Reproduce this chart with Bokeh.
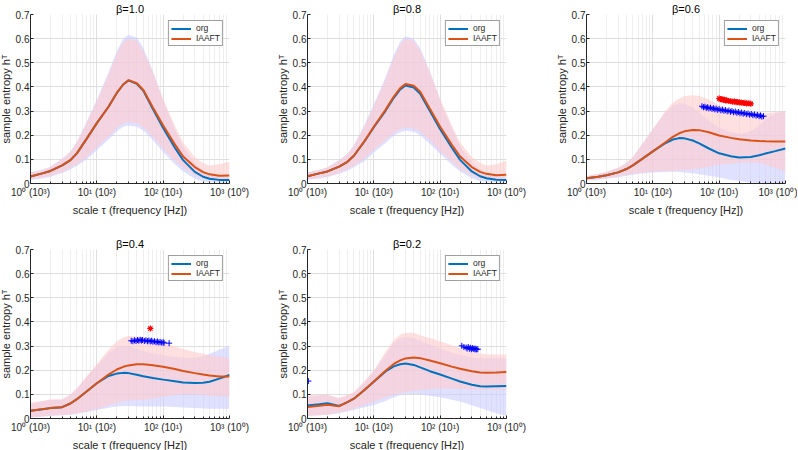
from bokeh.plotting import figure
from bokeh.layouts import column, row
from bokeh.models import FixedTicker
from bokeh.embed import file_html
from bokeh.resources import INLINE

# scales tau at which curves were read
TAU = [1, 1.5, 2, 3, 4, 5, 7, 10, 15, 20, 25, 30, 40, 50, 70, 100, 150, 200, 300, 400, 500, 700, 1000]

# ---- beta = 1.0
b10_iaaft = [0.029, 0.042, 0.052, 0.075, 0.097, 0.125, 0.185, 0.250, 0.318, 0.375, 0.410, 0.428, 0.415, 0.388, 0.315, 0.240, 0.162, 0.112, 0.068, 0.047, 0.038, 0.032, 0.033]
b10_org = [0.029, 0.042, 0.052, 0.075, 0.097, 0.125, 0.185, 0.250, 0.318, 0.375, 0.410, 0.427, 0.413, 0.385, 0.308, 0.230, 0.148, 0.097, 0.048, 0.028, 0.020, 0.015, 0.014]
b10_iaaft_hi = [0.045, 0.055, 0.068, 0.100, 0.130, 0.170, 0.250, 0.340, 0.450, 0.535, 0.585, 0.600, 0.590, 0.550, 0.460, 0.350, 0.240, 0.170, 0.110, 0.085, 0.075, 0.080, 0.090]
b10_iaaft_lo = [0.018, 0.025, 0.032, 0.048, 0.065, 0.080, 0.110, 0.150, 0.195, 0.230, 0.250, 0.255, 0.250, 0.235, 0.195, 0.145, 0.095, 0.065, 0.035, 0.022, 0.018, 0.015, 0.015]
b10_org_hi = [0.046, 0.057, 0.070, 0.102, 0.133, 0.173, 0.255, 0.347, 0.460, 0.548, 0.600, 0.615, 0.605, 0.562, 0.465, 0.345, 0.225, 0.152, 0.085, 0.055, 0.040, 0.030, 0.025]
b10_org_lo = [0.015, 0.021, 0.028, 0.043, 0.058, 0.072, 0.100, 0.138, 0.182, 0.215, 0.235, 0.240, 0.235, 0.220, 0.180, 0.130, 0.080, 0.050, 0.020, 0.008, 0.005, 0.004, 0.004]

# ---- beta = 0.8
b08_iaaft = [0.030, 0.042, 0.050, 0.070, 0.090, 0.115, 0.170, 0.235, 0.305, 0.360, 0.395, 0.412, 0.405, 0.380, 0.310, 0.235, 0.160, 0.112, 0.068, 0.048, 0.040, 0.034, 0.036]
b08_org = [0.030, 0.042, 0.050, 0.070, 0.090, 0.115, 0.169, 0.233, 0.301, 0.355, 0.390, 0.406, 0.398, 0.372, 0.300, 0.225, 0.148, 0.098, 0.050, 0.030, 0.022, 0.016, 0.015]
b08_iaaft_hi = [0.045, 0.055, 0.065, 0.095, 0.120, 0.155, 0.230, 0.320, 0.430, 0.520, 0.575, 0.600, 0.590, 0.550, 0.460, 0.350, 0.240, 0.170, 0.110, 0.085, 0.075, 0.080, 0.095]
b08_iaaft_lo = [0.018, 0.025, 0.030, 0.045, 0.060, 0.075, 0.100, 0.140, 0.180, 0.210, 0.225, 0.232, 0.228, 0.215, 0.180, 0.135, 0.090, 0.060, 0.035, 0.022, 0.018, 0.015, 0.015]
b08_org_hi = [0.046, 0.057, 0.067, 0.097, 0.123, 0.158, 0.235, 0.327, 0.440, 0.532, 0.588, 0.610, 0.600, 0.560, 0.465, 0.345, 0.228, 0.155, 0.088, 0.058, 0.042, 0.032, 0.027]
b08_org_lo = [0.015, 0.021, 0.026, 0.040, 0.053, 0.067, 0.090, 0.128, 0.168, 0.198, 0.212, 0.218, 0.214, 0.200, 0.165, 0.122, 0.078, 0.050, 0.022, 0.010, 0.006, 0.005, 0.005]

# ---- beta = 0.6
b06_iaaft = [0.022, 0.028, 0.034, 0.046, 0.060, 0.075, 0.103, 0.133, 0.168, 0.193, 0.208, 0.216, 0.222, 0.221, 0.212, 0.199, 0.189, 0.183, 0.178, 0.176, 0.175, 0.174, 0.174]
b06_org = [0.022, 0.028, 0.034, 0.046, 0.060, 0.075, 0.103, 0.133, 0.165, 0.182, 0.188, 0.187, 0.178, 0.166, 0.145, 0.125, 0.113, 0.108, 0.110, 0.117, 0.124, 0.134, 0.145]
b06_iaaft_hi = [0.030, 0.040, 0.048, 0.065, 0.085, 0.110, 0.165, 0.225, 0.295, 0.335, 0.352, 0.362, 0.366, 0.362, 0.348, 0.325, 0.303, 0.292, 0.286, 0.286, 0.290, 0.295, 0.300]
b06_iaaft_lo = [0.014, 0.018, 0.022, 0.030, 0.036, 0.040, 0.046, 0.050, 0.052, 0.053, 0.055, 0.056, 0.058, 0.062, 0.070, 0.078, 0.083, 0.086, 0.088, 0.085, 0.078, 0.065, 0.050]
b06_org_hi = [0.030, 0.040, 0.048, 0.065, 0.085, 0.110, 0.165, 0.225, 0.290, 0.322, 0.332, 0.330, 0.315, 0.295, 0.260, 0.230, 0.212, 0.205, 0.215, 0.240, 0.265, 0.290, 0.300]
b06_org_lo = [0.012, 0.016, 0.020, 0.026, 0.032, 0.036, 0.042, 0.046, 0.048, 0.049, 0.048, 0.046, 0.042, 0.038, 0.032, 0.025, 0.015, 0.010, 0.004, 0.000, 0.000, 0.000, 0.000]
b06_red_tau = [100, 105, 110, 115, 120, 125, 130, 140, 150, 160, 170, 180, 190, 200, 215, 230, 245, 260, 280, 300]
b06_red_val = [0.352, 0.349, 0.350, 0.346, 0.347, 0.344, 0.345, 0.342, 0.341, 0.339, 0.340, 0.337, 0.338, 0.335, 0.336, 0.333, 0.334, 0.331, 0.332, 0.330]
b06_blue_tau = [55, 58, 61, 64, 67, 70, 74, 78, 82, 86, 90, 95, 100, 106, 112, 118, 125, 132, 140, 148, 156, 165, 175, 185, 195, 206, 218, 230, 243, 257, 272, 288, 305, 322, 340, 360, 380, 400, 420, 440, 466]
b06_blue_val = [0.320, 0.316, 0.318, 0.313, 0.316, 0.311, 0.314, 0.309, 0.312, 0.307, 0.310, 0.305, 0.308, 0.303, 0.306, 0.301, 0.304, 0.299, 0.302, 0.297, 0.300, 0.295, 0.298, 0.293, 0.296, 0.291, 0.294, 0.289, 0.292, 0.287, 0.290, 0.285, 0.288, 0.283, 0.286, 0.281, 0.284, 0.279, 0.282, 0.277, 0.279]

# ---- beta = 0.4
b04_iaaft = [0.032, 0.038, 0.043, 0.047, 0.062, 0.080, 0.112, 0.146, 0.182, 0.203, 0.214, 0.220, 0.225, 0.225, 0.221, 0.214, 0.205, 0.197, 0.188, 0.182, 0.178, 0.174, 0.174]
b04_org = [0.032, 0.038, 0.043, 0.047, 0.062, 0.080, 0.112, 0.146, 0.176, 0.186, 0.189, 0.188, 0.181, 0.175, 0.168, 0.161, 0.154, 0.149, 0.147, 0.148, 0.152, 0.165, 0.180]
b04_iaaft_hi = [0.065, 0.072, 0.080, 0.080, 0.100, 0.125, 0.175, 0.225, 0.285, 0.320, 0.335, 0.342, 0.340, 0.335, 0.325, 0.312, 0.298, 0.288, 0.275, 0.268, 0.262, 0.256, 0.250]
b04_iaaft_lo = [0.005, 0.008, 0.012, 0.015, 0.018, 0.022, 0.030, 0.040, 0.055, 0.065, 0.072, 0.075, 0.077, 0.078, 0.083, 0.090, 0.097, 0.100, 0.100, 0.098, 0.095, 0.092, 0.090]
b04_org_hi = [0.062, 0.070, 0.077, 0.078, 0.097, 0.122, 0.170, 0.218, 0.272, 0.295, 0.302, 0.300, 0.290, 0.280, 0.270, 0.262, 0.255, 0.252, 0.252, 0.258, 0.268, 0.285, 0.300]
b04_org_lo = [0.004, 0.007, 0.010, 0.013, 0.016, 0.020, 0.027, 0.035, 0.045, 0.050, 0.052, 0.052, 0.051, 0.050, 0.050, 0.050, 0.048, 0.046, 0.043, 0.041, 0.040, 0.040, 0.040]
b04_red_tau = [64]
b04_red_val = [0.373]
b04_blue_tau = [33, 35, 37, 39, 41, 43, 45, 47, 49, 52, 55, 58, 61, 64, 67, 70, 74, 78, 82, 86, 90, 95, 100, 103, 123]
b04_blue_val = [0.322, 0.320, 0.324, 0.321, 0.325, 0.322, 0.326, 0.323, 0.325, 0.321, 0.324, 0.320, 0.323, 0.319, 0.322, 0.318, 0.320, 0.316, 0.319, 0.315, 0.317, 0.314, 0.316, 0.313, 0.312]

# ---- beta = 0.2
b02_iaaft = [0.048, 0.053, 0.057, 0.051, 0.068, 0.082, 0.115, 0.153, 0.198, 0.226, 0.241, 0.249, 0.253, 0.250, 0.240, 0.229, 0.215, 0.206, 0.196, 0.191, 0.190, 0.191, 0.193]
b02_org = [0.054, 0.059, 0.063, 0.052, 0.068, 0.082, 0.115, 0.152, 0.195, 0.216, 0.225, 0.228, 0.222, 0.212, 0.196, 0.182, 0.165, 0.153, 0.140, 0.134, 0.133, 0.134, 0.135]
b02_iaaft_hi = [0.095, 0.097, 0.098, 0.085, 0.098, 0.110, 0.150, 0.200, 0.275, 0.325, 0.348, 0.355, 0.355, 0.345, 0.333, 0.320, 0.303, 0.290, 0.276, 0.270, 0.266, 0.265, 0.265]
b02_iaaft_lo = [0.010, 0.013, 0.016, 0.025, 0.032, 0.040, 0.055, 0.070, 0.088, 0.100, 0.106, 0.110, 0.115, 0.118, 0.122, 0.125, 0.124, 0.122, 0.120, 0.120, 0.120, 0.120, 0.120]
b02_org_hi = [0.092, 0.095, 0.097, 0.083, 0.095, 0.107, 0.145, 0.195, 0.265, 0.312, 0.332, 0.338, 0.333, 0.322, 0.305, 0.290, 0.273, 0.263, 0.253, 0.250, 0.250, 0.250, 0.250]
b02_org_lo = [0.010, 0.013, 0.016, 0.022, 0.030, 0.036, 0.046, 0.056, 0.072, 0.088, 0.097, 0.100, 0.101, 0.099, 0.094, 0.088, 0.078, 0.070, 0.055, 0.043, 0.035, 0.022, 0.010]
b02_red_tau = []
b02_red_val = []
b02_blue_tau = [1.03, 212, 228, 246, 255, 265, 275, 285, 295, 305, 315, 325, 335, 345, 355, 370]
b02_blue_val = [0.155, 0.301, 0.296, 0.294, 0.290, 0.296, 0.289, 0.293, 0.287, 0.292, 0.288, 0.290, 0.286, 0.289, 0.286, 0.287]

Y_TICKS = [0, 0.1, 0.2, 0.3, 0.4, 0.5, 0.6, 0.7]
X_TICKS = [1, 10, 100, 1000]
X_TICK_LABELS = {1: "10\u2070 (10\u00b3)", 10: "10\u00b9 (10\u00b2)", 100: "10\u00b2 (10\u00b9)", 1000: "10\u00b3 (10\u2070)"}

FONT = "Liberation Sans"
AX = "#262626"
C_ORG = "#0072BD"
C_IA = "#D95319"


def panel(title, org, ia, org_lo, org_hi, ia_lo, ia_hi, blue_t, blue_v, red_t, red_v,
          bl, br, bt, bb):
    p = figure(title=title, x_axis_type="log", x_range=(1, 1000), y_range=(0, 0.7),
               frame_width=199, frame_height=169,
               min_border_left=bl, min_border_right=br, min_border_top=bt, min_border_bottom=bb,
               output_backend="svg", toolbar_location=None)
    p.outline_line_color = None
    p.background_fill_color = "white"
    p.border_fill_color = "white"

    minor = [m * d for d in (1, 10, 100) for m in range(2, 10)]
    p.xaxis.ticker = FixedTicker(ticks=X_TICKS, minor_ticks=minor)
    p.xgrid.ticker = FixedTicker(ticks=X_TICKS, minor_ticks=minor)
    p.yaxis.ticker = FixedTicker(ticks=Y_TICKS)
    p.ygrid.ticker = FixedTicker(ticks=Y_TICKS)
    p.xaxis.major_label_overrides = X_TICK_LABELS
    p.yaxis.major_label_overrides = {0: "0"}

    p.xgrid.grid_line_color = "#DEDEDE"
    p.xgrid.minor_grid_line_color = "#EEEEEE"
    p.ygrid.grid_line_color = "#DEDEDE"

    for ax in (p.xaxis, p.yaxis):
        ax.axis_line_color = AX
        ax.major_tick_line_color = AX
        ax.minor_tick_line_color = AX
        ax.major_tick_in = 3
        ax.major_tick_out = 0
        ax.minor_tick_in = 2
        ax.minor_tick_out = 0
        ax.major_label_text_font = FONT
        ax.major_label_text_font_size = "10px"
        ax.major_label_text_color = AX
        ax.axis_label_text_font = FONT
        ax.axis_label_text_font_size = "11px"
        ax.axis_label_text_font_style = "normal"
        ax.axis_label_text_color = AX
    p.xaxis.major_label_standoff = 3
    p.xaxis.axis_label_standoff = 3
    p.yaxis.major_label_standoff = 1
    p.yaxis.axis_label_standoff = 1
    p.yaxis.minor_tick_line_color = None
    p.xaxis.axis_label = "scale \u03c4 (frequency [Hz])"
    p.yaxis.axis_label = "sample entropy h\u1d40"

    p.title.text_font = FONT
    p.title.text_font_size = "11px"
    p.title.text_font_style = "normal"
    p.title.text_color = "black"
    p.title.align = "center"
    p.title.standoff = 0

    p.varea(x=TAU, y1=org_lo, y2=org_hi, fill_color="#CCCCFF", fill_alpha=0.6)
    p.varea(x=TAU, y1=ia_lo, y2=ia_hi, fill_color="#FFCCCC", fill_alpha=0.6)
    p.line(TAU, org, line_color=C_ORG, line_width=2, legend_label="org")
    p.line(TAU, ia, line_color=C_IA, line_width=2, legend_label="IAAFT")
    if blue_t:
        p.scatter(blue_t, blue_v, marker="cross", size=6, line_color="blue", line_width=1)
    if red_t:
        p.scatter(red_t, red_v, marker="asterisk", size=6, line_color="red", line_width=1.2)

    lg = p.legend[0]
    lg.location = "top_right"
    lg.margin = 6
    lg.padding = 2
    lg.spacing = 0
    lg.glyph_width = 20
    lg.glyph_height = 9
    lg.label_height = 9
    lg.label_standoff = 5
    lg.label_text_font = FONT
    lg.label_text_font_size = "8.5px"
    lg.label_text_line_height = 1.0
    lg.label_text_color = AX
    lg.border_line_color = "#404040"
    lg.border_line_width = 1
    lg.background_fill_alpha = 1
    return p


p1 = panel("\u03b2=1.0", b10_org, b10_iaaft, b10_org_lo, b10_org_hi, b10_iaaft_lo, b10_iaaft_hi,
           [], [], [], [], 29, 44, 13, 52)
p2 = panel("\u03b2=0.8", b08_org, b08_iaaft, b08_org_lo, b08_org_hi, b08_iaaft_lo, b08_iaaft_hi,
           [], [], [], [], 29, 46, 13, 52)
p3 = panel("\u03b2=0.6", b06_org, b06_iaaft, b06_org_lo, b06_org_hi, b06_iaaft_lo, b06_iaaft_hi,
           b06_blue_tau, b06_blue_val, b06_red_tau, b06_red_val, 29, 12, 13, 52)
p4 = panel("\u03b2=0.4", b04_org, b04_iaaft, b04_org_lo, b04_org_hi, b04_iaaft_lo, b04_iaaft_hi,
           b04_blue_tau, b04_blue_val, b04_red_tau, b04_red_val, 29, 44, 13, 31)
p5 = panel("\u03b2=0.2", b02_org, b02_iaaft, b02_org_lo, b02_org_hi, b02_iaaft_lo, b02_iaaft_hi,
           b02_blue_tau, b02_blue_val, b02_red_tau, b02_red_val, 29, 46, 13, 31)

layout = column(row(p1, p2, p3), row(p4, p5))
layout.styles = {"margin-left": "-4px"}

open("out.html", "w").write(file_html(layout, INLINE))
